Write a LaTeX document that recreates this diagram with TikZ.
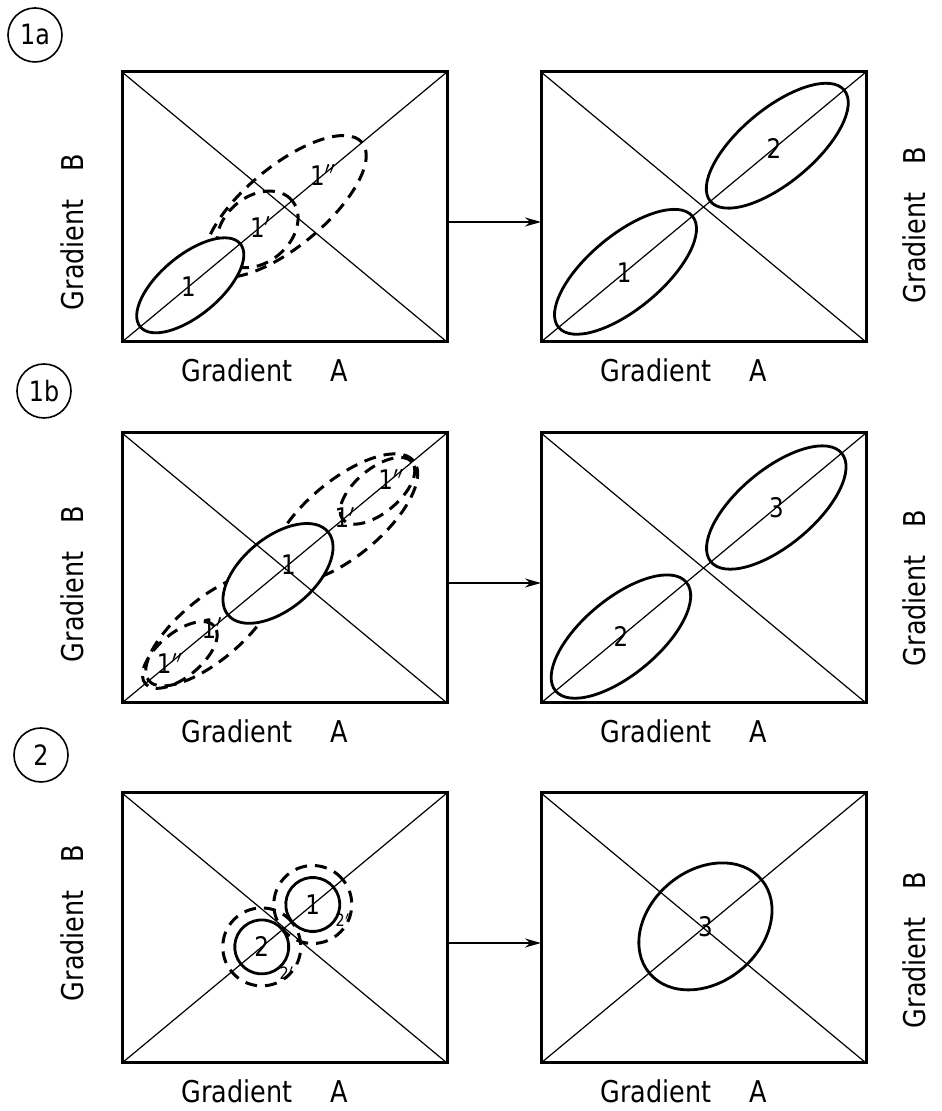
\documentclass[tikz,border=0pt]{standalone}
\usepackage{fontspec}
\setmainfont{DejaVu Sans}[FakeStretch=0.85]
\usetikzlibrary{calc,positioning,arrows.meta}

\tikzset{
  frame/.style={draw, line width=1.5pt, minimum width=162.5pt, minimum height=135pt,
    inner sep=0pt, outer sep=0pt, anchor=south west},
  diag/.style={line width=0.6pt},
  cloud/.style={line width=1.4pt},
  cloudfill/.style={cloud, fill=white},
  shifted/.style={line width=1.5pt, dash pattern=on 6pt off 4pt},
  num/.style={font=\fontsize{13.5}{14}\selectfont, inner sep=0pt},
  smallnum/.style={font=\fontsize{8.5}{9}\selectfont, inner sep=0pt},
  axisA/.style={font=\fontsize{15}{16}\selectfont, inner sep=0pt},
  axisB/.style={axisA, rotate=90},
  tag/.style={draw, circle, line width=0.8pt, minimum size=27pt, inner sep=0pt,
    font=\fontsize{14}{14}\selectfont},
  flow/.style={line width=1pt, -{Stealth[length=8pt, width=4.5pt]}}
}
\def\Tilt{39.7}
\def\GapA{19pt}
\def\GapB{14pt}
\newcommand{\Panel}[3]{%
  % #1 name, #2 x, #3 y (lower left corner)
  \node[frame] (#1) at (#2,#3) {};
}
\newcommand{\Diagonals}[1]{%
  \draw[diag] (#1.south west) -- (#1.north east);
  \draw[diag] (#1.north west) -- (#1.south east);
}
\newcommand{\Cloud}[6]{%
  % #1 panel, #2 position on the diagonal (0..1), #3 long radius, #4 short radius, #5 style, #6 centre name
  \coordinate (#6) at ($(#1.south west)!#2!(#1.north east)$);
  \draw[#5, rotate around={\Tilt:(#6)}] (#6) ellipse [x radius=#3, y radius=#4];
}
\newcommand{\AxisLabels}[6]{%
  % #1 panel, #2 side of B label (west/east), #3 x-shift of B label, #4 y-shift of B label, #5 name A, #6 name B
  \node[axisA] (#5) at ([xshift=-10pt, yshift=-14pt]#1.south) {Gradient\hspace{\GapA}A};
  \node[axisB] (#6) at ([xshift=#3, yshift=#4]#1.#2) {Gradient\hspace{\GapB}B};
}

\begin{document}
\begin{tikzpicture}[x=0.5pt, y=0.5pt]
  \useasboundingbox (0,0) rectangle (941,1111);

  % =======================
  % Frames
  % =======================
  \Panel{f1aL}{122}{769}
  \Panel{f1aR}{541}{769}
  \Panel{f1bL}{122}{408}
  \Panel{f1bR}{541}{408}
  \Panel{f2L}{122}{48}
  \Panel{f2R}{541}{48}

  % =======================
  % Case 1a
  % =======================
  \Cloud{f1aL}{0.502}{100}{40}{shifted}{c1aL3}
  \Cloud{f1aL}{0.417}{45}{33}{shifted}{c1aL2}
  \Cloud{f1aL}{0.21}{65}{30}{cloudfill}{c1aL1}
  \Cloud{f1aR}{0.26}{87}{37}{cloud}{c1aR1}
  \Cloud{f1aR}{0.727}{87}{37}{cloud}{c1aR2}

  % =======================
  % Case 1b
  % =======================
  \Cloud{f1bL}{0.684}{90}{38}{shifted}{c1bL2}
  \Cloud{f1bL}{0.786}{45}{22}{shifted}{c1bL3}
  \Cloud{f1bL}{0.272}{80}{31}{shifted}{c1bL4}
  \Cloud{f1bL}{0.178}{45}{22}{shifted}{c1bL5}
  \Cloud{f1bL}{0.48}{65}{36}{cloudfill}{c1bL1}
  \Cloud{f1bR}{0.246}{85}{38}{cloud}{c1bR1}
  \Cloud{f1bR}{0.724}{85}{38}{cloud}{c1bR2}

  % =======================
  % Case 2
  % =======================
  \Cloud{f2L}{0.587}{39}{39}{shifted}{c2L1d}
  \Cloud{f2L}{0.43}{39}{39}{shifted}{c2L2d}
  \Cloud{f2L}{0.587}{27}{27}{cloudfill}{c2L1}
  \Cloud{f2L}{0.43}{27}{27}{cloudfill}{c2L2}
  \Cloud{f2R}{0.506}{73}{56}{cloud}{c2R1}

  \foreach \p in {f1aL,f1aR,f1bL,f1bR,f2L,f2R}{\Diagonals{\p}}

  % numbers
  \path (f1aL.south west) -- (f1aL.north east)
    node[num, pos=0.204] (n1aL1) {1}
    node[num, pos=0.426] (n1aL2) {1$'$}
    node[num, pos=0.618] (n1aL3) {1$''$};
  \path (f1aR.south west) -- (f1aR.north east)
    node[num, pos=0.256] (n1aR1) {1}
    node[num, pos=0.717] (n1aR2) {2};
  \path (f1bL.south west) -- (f1bL.north east)
    node[num, pos=0.512] (n1bL1) {1}
    node[num, pos=0.686] (n1bL2) {1$'$}
    node[num, pos=0.828] (n1bL3) {1$''$}
    node[num, pos=0.277] (n1bL4) {1$'$}
    node[num, pos=0.147] (n1bL5) {1$''$};
  \path (f1bR.south west) -- (f1bR.north east)
    node[num, pos=0.246] (n1bR1) {2}
    node[num, pos=0.724] (n1bR2) {3};
  \node[num] (n2L1) at (c2L1) {1};
  \node[num] (n2L2) at (c2L2) {2};
  \node[smallnum] (n2L1d) at ($(f2L.south west)+(221,143)$) {2$'$};
  \node[smallnum] (n2L2d) at ($(f2L.south west)+(165,90)$) {2$'$};
  \node[num] (n2R1) at (c2R1) {3};

  % =======================
  % Axis labels and tags
  % =======================
  \AxisLabels{f1aL}{west}{-25pt}{-12.5pt}{a1aL}{b1aL}
  \AxisLabels{f1aR}{east}{24pt}{-9pt}{a1aR}{b1aR}
  \AxisLabels{f1bL}{west}{-25pt}{-8pt}{a1bL}{b1bL}
  \AxisLabels{f1bR}{east}{24pt}{-10pt}{a1bR}{b1bR}
  \AxisLabels{f2L}{west}{-25pt}{2.5pt}{a2L}{b2L}
  \AxisLabels{f2R}{east}{24pt}{-11pt}{a2R}{b2R}

  \node[tag] (t1a) at (35,1076) {1a};
  \node[tag] (t1b) at (44,720) {1b};
  \node[tag] (t2) at (41,356) {2};

  \draw[flow] ([yshift=-7.5pt]f1aL.east) -- ([yshift=-7.5pt]f1aR.west);
  \draw[flow] ([yshift=-7.5pt]f1bL.east) -- ([yshift=-7.5pt]f1bR.west);
  \draw[flow] ([yshift=-7.5pt]f2L.east) -- ([yshift=-7.5pt]f2R.west);
\end{tikzpicture}
\end{document}
